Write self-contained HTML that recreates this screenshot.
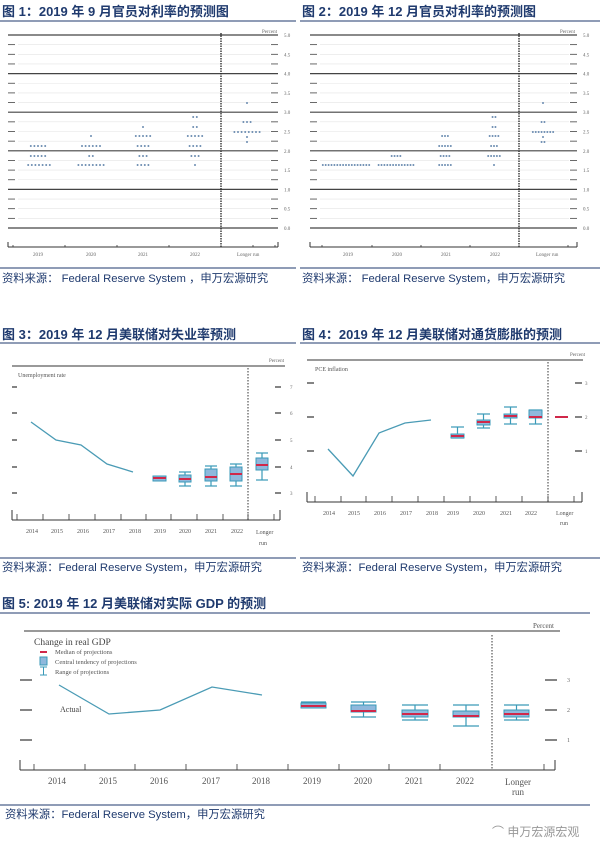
<!DOCTYPE html>
<html><head><meta charset="utf-8"><style>
body{margin:0;background:#fff}
svg{display:block;font-family:"Liberation Serif","Noto Serif CJK SC",serif}
.t{font-family:"Liberation Sans","Noto Sans CJK SC",sans-serif;font-weight:bold;font-size:13px;fill:#1f3a6e}
.s{font-family:"Liberation Sans","Noto Sans CJK SC",sans-serif;font-size:11.3px;fill:#1f3a6e}
.a{font-size:5px;fill:#666}
.b{font-size:6px;fill:#555}
.c{font-size:9px;fill:#555}
</style></head><body>
<svg id="s" width="600" height="858" viewBox="0 0 600 858">
<text class="t" x="2" y="16">图 1：2019 年 9 月官员对利率的预测图</text>
<text class="t" x="302" y="16">图 2：2019 年 12 月官员对利率的预测图</text>
<line x1="0" y1="21" x2="296" y2="21" stroke="#1f3a6e" stroke-width="1"/>
<line x1="300" y1="21" x2="600" y2="21" stroke="#1f3a6e" stroke-width="1"/>
<text class="s" x="2" y="282">资料来源：  Federal Reserve System  ，申万宏源研究</text>
<text class="s" x="302" y="282">资料来源：  Federal Reserve System，申万宏源研究</text>
<line x1="0" y1="268" x2="296" y2="268" stroke="#1f3a6e"/>
<line x1="300" y1="268" x2="600" y2="268" stroke="#1f3a6e"/>
<text class="a" x="262" y="33">Percent</text><text class="a" x="560" y="33">Percent</text>
<g class="a">
<text x="33" y="256">2019</text><text x="86" y="256">2020</text><text x="138" y="256">2021</text><text x="190" y="256">2022</text><text x="237" y="256">Longer run</text>
<text x="343" y="256">2019</text><text x="392" y="256">2020</text><text x="441" y="256">2021</text><text x="490" y="256">2022</text><text x="536" y="256">Longer run</text>
</g>

<text class="t" x="2" y="339">图 3：2019 年 12 月美联储对失业率预测</text>
<text class="t" x="302" y="339">图 4：2019 年 12 月美联储对通货膨胀的预测</text>
<line x1="0" y1="343" x2="296" y2="343" stroke="#1f3a6e"/>
<line x1="300" y1="343" x2="600" y2="343" stroke="#1f3a6e"/>
<line x1="0" y1="558" x2="296" y2="558" stroke="#1f3a6e"/>
<line x1="300" y1="558" x2="600" y2="558" stroke="#1f3a6e"/>
<text class="s" x="2" y="571">资料来源：Federal Reserve System，申万宏源研究</text>
<text class="s" x="302" y="571">资料来源：Federal Reserve System，申万宏源研究</text>

<line x1="12" y1="366" x2="285" y2="366" stroke="#333"/>
<text class="a" x="269" y="362">Percent</text>
<text class="b" x="18" y="377">Unemployment rate</text>
<line x1="307" y1="360" x2="583" y2="360" stroke="#333"/>
<text class="a" x="570" y="356">Percent</text>
<text class="b" x="315" y="371">PCE inflation</text>
<g class="a">
<text x="290" y="389">7</text><text x="290" y="415">6</text><text x="290" y="442">5</text><text x="290" y="469">4</text><text x="290" y="495">3</text>
<text x="585" y="385">3</text><text x="585" y="419">2</text><text x="585" y="453">1</text>
</g>
<g class="b">
<text x="26" y="533">2014</text><text x="51" y="533">2015</text><text x="77" y="533">2016</text><text x="103" y="533">2017</text><text x="129" y="533">2018</text><text x="154" y="533">2019</text><text x="179" y="533">2020</text><text x="205" y="533">2021</text><text x="231" y="533">2022</text><text x="256" y="534">Longer</text><text x="259" y="545">run</text>
<text x="323" y="515">2014</text><text x="348" y="515">2015</text><text x="374" y="515">2016</text><text x="400" y="515">2017</text><text x="426" y="515">2018</text><text x="447" y="515">2019</text><text x="473" y="515">2020</text><text x="500" y="515">2021</text><text x="525" y="515">2022</text><text x="556" y="515">Longer</text><text x="560" y="525">run</text>
</g>
<polyline points="31,422 56,440 81,445 107,464 133,472" fill="none" stroke="#4a9bb5" stroke-width="1.3"/>
<polyline points="328,449 353,476 379,433 405,423 431,420" fill="none" stroke="#4a9bb5" stroke-width="1.3"/>

<text class="t" x="2" y="608">图 5: 2019 年 12 月美联储对实际 GDP 的预测</text>
<line x1="0" y1="613" x2="590" y2="613" stroke="#1f3a6e"/>
<line x1="24" y1="631" x2="560" y2="631" stroke="#333"/>
<text class="b" style="font-size:7px" x="533" y="628">Percent</text>
<text x="34" y="645" style="font-size:9.5px;fill:#444">Change in real GDP</text>
<line x1="40" y1="652" x2="47" y2="652" stroke="#d0284a" stroke-width="2"/>
<rect x="40" y="657" width="7" height="8" fill="#8fb8dc" stroke="#3a9ab8"/>
<path d="M40,667H47M43.5,667V675M40,675H47" stroke="#3a9ab8" fill="none"/>
<g style="font-size:6.5px;fill:#555"><text x="55" y="654">Median of projections</text><text x="55" y="664">Central tendency of projections</text><text x="55" y="674">Range of projections</text></g>
<text x="60" y="712" style="font-size:8px;fill:#444">Actual</text>
<g class="a" style="font-size:6px"><text x="567" y="682">3</text><text x="567" y="712">2</text><text x="567" y="742">1</text></g>
<g class="c">
<text x="48" y="784">2014</text><text x="99" y="784">2015</text><text x="150" y="784">2016</text><text x="202" y="784">2017</text><text x="252" y="784">2018</text><text x="303" y="784">2019</text><text x="354" y="784">2020</text><text x="405" y="784">2021</text><text x="456" y="784">2022</text><text x="505" y="785">Longer</text><text x="512" y="795">run</text>
</g>
<polyline points="59,685 109,714 160,710 212,687 262,695" fill="none" stroke="#4a9bb5" stroke-width="1.3"/>
<line x1="0" y1="805" x2="590" y2="805" stroke="#1f3a6e"/>
<text class="s" x="5" y="818">资料来源：Federal Reserve System，申万宏源研究</text>
<text x="492" y="836" style="font-family:'Liberation Sans','Noto Sans CJK SC',sans-serif;font-size:12px;fill:#999">⌒ 申万宏源宏观</text>
</svg>
<script>
var s=document.getElementById('s'),NS='http://www.w3.org/2000/svg';
function el(t,a){var e=document.createElementNS(NS,t);for(var k in a)e.setAttribute(k,a[k]);s.appendChild(e);return e}
function ln(x1,y1,x2,y2,c,w,d){var a={x1:x1,y1:y1,x2:x2,y2:y2,stroke:c,'stroke-width':w||1};if(d)a['stroke-dasharray']=d;el('line',a)}
function tx(x,y,t,cl){var e=el('text',{x:x,y:y,'class':cl});e.textContent=t}
function dot(ox,x0,x1,vx,axisTicks){
 for(var i=0;i<=20;i++){var y=35+i*9.65;
  if(i%4==0)ln(ox+x0,y,ox+x1,y,'#444',1.2);else{ln(ox+x0,y,ox+x0+7,y,'#444',0.8);ln(ox+x0+10,y,ox+x1-8,y,'#e4e4e4',0.6);ln(ox+x1-7,y,ox+x1,y,'#444',0.8)}
  if(i%2==0)tx(ox+x1+6,y+2,(5-i*0.25).toFixed(1),'a');}
 ln(ox+vx,33,ox+vx,247,'#222',1.3,'1.5,1');
 ln(ox+x0,247,ox+x1,247,'#333',1);ln(ox+x0,242,ox+x0,247,'#333',1);ln(ox+x1,242,ox+x1,247,'#333',1);
 axisTicks.forEach(function(x){ln(ox+x,245,ox+x,247,'#333',0.8)});
}
dot(0,8,278,221,[13,65,117,169,253,275]);
dot(300,10,277,219,[22,72,121,170,268]);
function row(cx,y,n,sp){sp=sp||3.6;for(var i=0;i<n;i++)el('circle',{cx:cx-(n-1)*sp/2+i*sp,cy:y,r:1,fill:'#6a8bb0'})}
[[38,146,5],[38,156,5],[39,165,7],[91,136,1],[91,146,6],[91,156,2],[91,165,8],[143,127,1],[143,136,5],[143,146,4],[143,156,3],[143,165,4],[195,117,2],[195,127,2],[195,136,5],[195,146,4],[195,156,3],[195,165,1],[247,103,1],[247,122,3],[247,132,8],[247,137,1],[247,142,1],
 [346,165,17,2.9],[396,156,4,2.9],[396,165,13,2.9],[445,136,3,2.9],[445,146,5,2.9],[445,156,4,2.9],[445,165,5,2.9],[494,117,2,2.9],[494,127,2,2.9],[494,136,4,2.9],[494,146,3,2.9],[494,156,5,2.9],[494,165,1],[543,103,1],[543,122,2,2.9],[543,132,8,2.9],[543,137,1],[543,142,2,2.9]
].forEach(function(r){row(r[0],r[1],r[2],r[3])});
function box(x,w,r1,r2,b1,b2,m){var c=x+w/2;
 if(r1!=null){ln(c,r1,c,r2,'#3a9ab8',1.2);ln(x,r1,x+w,r1,'#3a9ab8',1.2);ln(x,r2,x+w,r2,'#3a9ab8',1.2)}
 if(b1!=null)el('rect',{x:x,y:b1,width:w,height:b2-b1,fill:'#8fb8dc',stroke:'#3a9ab8','stroke-width':1});
 ln(x,m,x+w,m,'#d0284a',2);}
function axis(x0,x1,y,ticks,vx,vy0){ln(x0,y,x1,y,'#333',1);ln(x0,y-10,x0,y,'#333',1);ln(x1,y-10,x1,y,'#333',1);
 ticks.forEach(function(t){ln(t,y-6,t,y,'#333',0.8)});ln(vx,vy0,vx,y,'#333',1,'1.5,1.5')}
[387,413,440,467,493].forEach(function(y){ln(12,y,17,y,'#333',1.2);ln(275,y,281,y,'#333',1.2)});
axis(12,280,520,[17,43,69,95,121,146,171,197,223,248,274],248,368);
box(153,13,null,null,476,481,478);box(179,12,472,486,475,482,479);box(205,12,466,486,469,481,477);box(230,12,464,486,467,481,474);box(256,12,453,480,458,470,465);
[383,417,451].forEach(function(y){ln(307,y,314,y,'#333',1.2);ln(575,y,582,y,'#333',1.2)});
axis(307,582,502,[315,341,366,392,418,444,470,496,522,548,574],548,362);
box(451,13,427,438,434,438,436);box(477,13,414,428,420,425,422);box(504,13,407,424,414,418,416);box(529,13,410,424,410,418,417);box(555,13,null,null,null,null,417);
[680,710,740].forEach(function(y){ln(20,y,32,y,'#333',1.2);ln(545,y,557,y,'#333',1.2)});
axis(20,555,770,[34,85,135,186,237,288,339,389,440,544],492,635);
box(301,25,702,707,703,708,706);box(351,25,702,717,705,712,711);box(402,26,705,720,710,717,714);box(453,26,705,726,711,717,716);box(504,25,705,720,710,717,714);
</script>
</body></html>
